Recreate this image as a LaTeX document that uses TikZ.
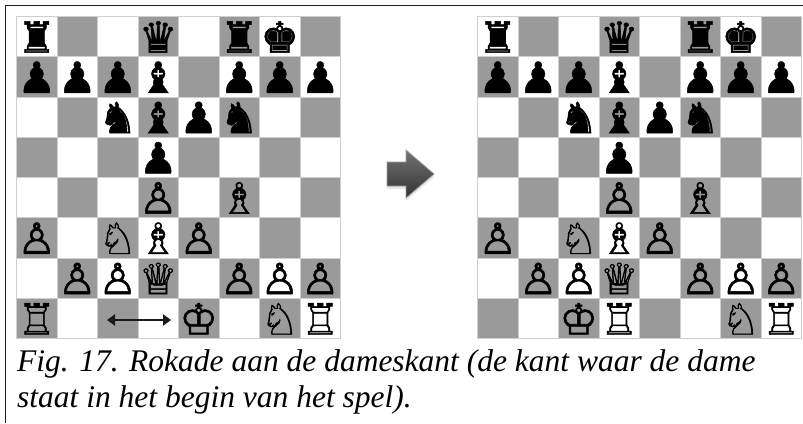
\documentclass[tikz,border=0pt]{standalone}
\usepackage{fontspec}
\setmainfont{Liberation Serif}
\newfontfamily\chessfont[FakeBold=1.2]{DejaVu Sans}
\usetikzlibrary{arrows.meta,shadows}
\definecolor{darksq}{HTML}{9A9A9A}
\definecolor{sqline}{HTML}{CFCFCF}
\definecolor{framecol}{HTML}{1E1E1E}
\tikzset{
  lightsquare/.style={fill=white,draw=sqline,line width=0.9pt},
  darksquare/.style={fill=darksq,draw=sqline,line width=0.9pt},
  piece/.style={inner sep=0pt,font=\chessfont\fontsize{43}{43}\selectfont,text=black},
  caption/.style={anchor=base west,inner sep=0pt,font=\itshape\fontsize{31.5}{36}\selectfont},
  castlearrow/.style={line width=2.2pt,draw=black!90,{Triangle[length=8pt,width=11pt]}-{Triangle[length=8pt,width=11pt]}},
  bigarrow/.style={top color=black!55,bottom color=black!80,draw=black!40,line width=0.8pt,
    drop shadow={opacity=0.18,shadow xshift=0pt,shadow yshift=-3pt}},
}
% draw an 8x8 board with its top-left corner at (#1,#2)
\newcommand{\drawboard}[2]{%
  \foreach \c in {0,...,7}{
    \foreach \r in {0,...,7}{
      \pgfmathparse{mod(\c+\r,2)==0 ? "lightsquare" : "darksquare"}
      \edef\sqstyle{\pgfmathresult}
      \path[\sqstyle] (#1+\c*40.5,#2+\r*40.25) rectangle ++(40.5,40.25);
    }
  }%
}
\begin{document}
\begin{tikzpicture}[x=1pt,y=-1pt]
  \useasboundingbox (0,0) rectangle (803,423);
  \fill[white] (0,0) rectangle (803,423);
  % frame
  \draw[framecol,line width=1.3pt] (5.5,423) -- (5.5,5.5) -- (803,5.5);

  % boards
  \drawboard{16.5}{16.5}
  \drawboard{477.5}{16.5}

  % pieces: board A (before castling) and board B (after)
  \foreach \bx/\bn in {16.5/A,477.5/B}{
    \foreach \c/\r/\g/\n in {
      0/0/♜/ra8, 3/0/♛/qd8, 5/0/♜/rf8, 6/0/♚/kg8,
      0/1/♟/pa7, 1/1/♟/pb7, 2/1/♟/pc7, 3/1/♝/bd7, 5/1/♟/pf7, 6/1/♟/pg7, 7/1/♟/ph7,
      2/2/♞/nc6, 3/2/♝/bd6, 4/2/♟/pe6, 5/2/♞/nf6,
      3/3/♟/pd5,
      3/4/♙/Pd4, 5/4/♗/Bf4,
      0/5/♙/Pa3, 2/5/♘/Nc3, 3/5/♗/Bd3, 4/5/♙/Pe3,
      1/6/♙/Pb2, 2/6/♙/Pc2, 3/6/♕/Qd2, 5/6/♙/Pf2, 6/6/♙/Pg2, 7/6/♙/Ph2,
      6/7/♘/Ng1, 7/7/♖/Rh1}{
      \node[piece] (\bn-\n) at (\bx+\c*40.5+20.25,16.5+\r*40.25+20.5) {\g};
    }
  }
  % first rank pieces that differ
  \node[piece] (A-Ra1) at (16.5+0*40.5+20.25,16.5+7*40.25+20.5) {♖};
  \node[piece] (A-Ke1) at (16.5+4*40.5+20.25,16.5+7*40.25+20.5) {♔};
  \node[piece] (B-Kc1) at (477.5+2*40.5+20.25,16.5+7*40.25+20.5) {♔};
  \node[piece] (B-Rd1) at (477.5+3*40.5+20.25,16.5+7*40.25+20.5) {♖};

  % castling arrow between c1 and d1
  \coordinate (c1) at (107,320);
  \coordinate (d1) at (171,320);
  \draw[castlearrow] (c1) -- (d1);

  % arrow between the boards
  \path[bigarrow] (387,162) -- (406,162) -- (406,150) -- (434,174) -- (406,198)
    -- (406,186) -- (387,186) -- cycle;

  % caption
  \node[caption] (cap1) at (17,371) {Fig. 17. Rokade aan de dameskant (de kant waar de dame};
  \node[caption] (cap2) at (17,407) {staat in het begin van het spel).};
\end{tikzpicture}
\end{document}
